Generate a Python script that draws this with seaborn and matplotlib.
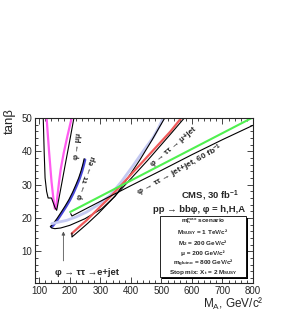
import numpy as np
import matplotlib
matplotlib.use("Agg")
import matplotlib.pyplot as plt
from matplotlib.patches import Rectangle
from matplotlib.ticker import MultipleLocator
import seaborn as sns

# Data, M_A in GeV/c^2 vs tan(beta)

mumu_black_x = [113, 116, 119, 124, 129, 134, 140, 146, 152, 157, 170, 185, 200, 215]
mumu_black_y = [50, 40, 32, 28, 26, 26, 26, 24.5, 23, 22.3, 28.6, 36, 43.3, 50.8]
mumu_mag_x = [124, 132, 140, 146, 151, 155, 160, 165, 170, 180, 192, 206]
mumu_mag_y = [50, 40, 31, 26, 22.8, 23, 27, 31, 34.5, 39.5, 44.5, 50]

emu_blue_x = [140, 146, 160, 173, 187, 200, 212, 223, 232, 240, 246, 250]
emu_blue_y = [17.3, 17.8, 19.5, 21.3, 23.3, 25.3, 27.5, 29.8, 31.8, 34, 36, 37.5]
emu_black_x = [137, 143, 157, 170, 184, 197, 209, 220, 229, 237, 243, 247]
emu_black_y = [17.5, 18.0, 19.7, 21.5, 23.5, 25.5, 27.7, 30.0, 32.0, 34.2, 36.2, 37.8]

ejet_col_x = [141, 160, 190, 220, 255, 290, 332, 370, 408, 440, 474, 492, 506]
ejet_col_y = [18.3, 18.7, 19.3, 20.3, 21.8, 23.8, 26.8, 31, 35.8, 40, 44.3, 47.3, 50]
ejet_black_x = [136, 141, 151, 170, 200, 250, 305, 348, 390, 430, 470, 495, 511]
ejet_black_y = [17.5, 17, 16.8, 17.0, 17.8, 19.8, 22.8, 26.5, 32, 37.5, 43.5, 47.5, 50]

mujet_red_x = [206, 230, 255, 290, 332, 370, 410, 450, 490, 530, 565]
mujet_red_y = [15.3, 17.3, 19.3, 22.5, 26.3, 30, 34, 38, 42, 46, 50]
mujet_black_x = [207, 207, 235, 260, 295, 335, 375, 415, 455, 495, 535, 575]
mujet_black_y = [15.5, 14.3, 16.5, 18.5, 21.5, 25.3, 29.3, 33.3, 37.3, 41.5, 45.7, 50]

jetjet_green_x = [201, 800]
jetjet_green_y = [21.8, 50.2]
jetjet_black_x = [203, 207, 300, 400, 500, 600, 700, 800]
jetjet_black_y = [21.3, 20.6, 25, 29.7, 34.3, 39, 43.5, 47.8]

box_lines = [
    "m$_h^{max}$ scenario",
    "M$_{SUSY}$ = 1 TeV/c\u00b2",
    "M$_2$ = 200 GeV/c\u00b2",
    "\u03bc = 200 GeV/c\u00b2",
    "m$_{gluino}$ = 800 GeV/c\u00b2",
    "Stop mix: X$_t$ = 2 M$_{SUSY}$",
]

# Style

sns.set_style("ticks")
plt.rcParams["font.family"] = ["Liberation Sans", "DejaVu Sans"]
plt.rcParams["mathtext.default"] = "regular"
plt.rcParams["axes.linewidth"] = 0.8

fig = plt.figure(figsize=(2.87, 3.10), dpi=100)
ax = fig.add_axes([35 / 287, 1 - 283 / 310, 218 / 287, 165 / 310])


def curve(x, y, color, lw):
    sns.lineplot(x=x, y=y, ax=ax, color=color, linewidth=lw,
                 sort=False, estimator=None)


curve(mumu_mag_x, mumu_mag_y, "#ff5cf0", 1.6)
curve(mumu_black_x, mumu_black_y, "black", 0.8)
curve(emu_blue_x, emu_blue_y, "#4848d8", 1.8)
curve(emu_black_x, emu_black_y, "black", 0.8)
curve(ejet_col_x, ejet_col_y, "#c4c9f2", 2.0)
curve(ejet_black_x, ejet_black_y, "black", 0.8)
curve(mujet_red_x, mujet_red_y, "#f05a5a", 1.6)
curve(mujet_black_x, mujet_black_y, "black", 0.8)
curve(jetjet_green_x, jetjet_green_y, "#4ff04f", 1.5)
curve(jetjet_black_x, jetjet_black_y, "black", 0.8)

ax.set_xlim(86, 800)
ax.set_ylim(0.5, 50)
ax.xaxis.set_major_locator(MultipleLocator(100))
ax.xaxis.set_minor_locator(MultipleLocator(20))
ax.yaxis.set_major_locator(MultipleLocator(10))
ax.yaxis.set_minor_locator(MultipleLocator(2))
ax.set_yticks([10, 20, 30, 40, 50])
ax.tick_params(which="both", direction="in", top=True, right=True,
               labeltop=False, labelright=False, width=0.6, labelsize=7)
ax.tick_params(which="major", length=4.5, pad=2.0)
ax.tick_params(which="minor", length=2.2)
ax.set_xlabel("")
ax.set_ylabel("")

# Annotations
ax.text(227, 41.5, "\u03c6 \u2192 \u03bc\u03bc", rotation=84, fontsize=5.6,
        ha="center", va="center", fontweight="bold")
ax.text(255, 32, "\u03c6 \u2192 \u03c4\u03c4 \u2192 e\u03bc", rotation=71, fontsize=5.6,
        ha="center", va="center", fontweight="bold")
ax.text(540, 41.3, "\u03c6 \u2192 \u03c4\u03c4 \u2192 \u03bc+jet", rotation=40, fontsize=5.8,
        ha="center", va="center", fontweight="bold")
ax.text(562, 34.3, "\u03c6 \u2192 \u03c4\u03c4 \u2192 jet+jet, 60 fb$^{-1}$", rotation=29,
        fontsize=6, ha="center", va="center", fontweight="bold")
ax.text(658, 26.5, "CMS, 30 fb$^{-1}$", fontsize=6.8, ha="center", va="center",
        fontweight="bold")
ax.text(624, 22.5, "pp \u2192 bb\u03c6, \u03c6 = h,H,A", fontsize=6.8, ha="center",
        va="center", fontweight="bold")
ax.text(255, 3.6, "\u03c6 \u2192 \u03c4\u03c4 \u2192e+jet", fontsize=6.8, ha="center",
        va="center", fontweight="bold")
ax.annotate("", xy=(179, 16.8), xytext=(179, 6.3),
            arrowprops=dict(arrowstyle="-|>", color="#555555", lw=0.6,
                            mutation_scale=5))

# Parameter box with shadow
ax.add_patch(Rectangle((0.582, 0.024), 0.395, 0.37, transform=ax.transAxes,
                       facecolor="black", edgecolor="none", zorder=4))
ax.add_patch(Rectangle((0.573, 0.036), 0.395, 0.37, transform=ax.transAxes,
                       facecolor="white", edgecolor="black", lw=0.6, zorder=5))
for yy, txt in zip([0.372, 0.306, 0.241, 0.178, 0.12, 0.066], box_lines):
    ax.text(0.771, yy, txt, transform=ax.transAxes, fontsize=4.6,
            ha="center", va="center", zorder=6, fontweight="bold")

fig.text(10 / 287, 1 - 121 / 310, "tan\u03b2", rotation=90, fontsize=9.5,
         ha="center", va="center")
fig.text(264 / 287, 1 - 303.5 / 310, "M$_A$, GeV/c\u00b2", fontsize=8.5,
         ha="right", va="center")

fig.savefig("out.png", dpi=100)
